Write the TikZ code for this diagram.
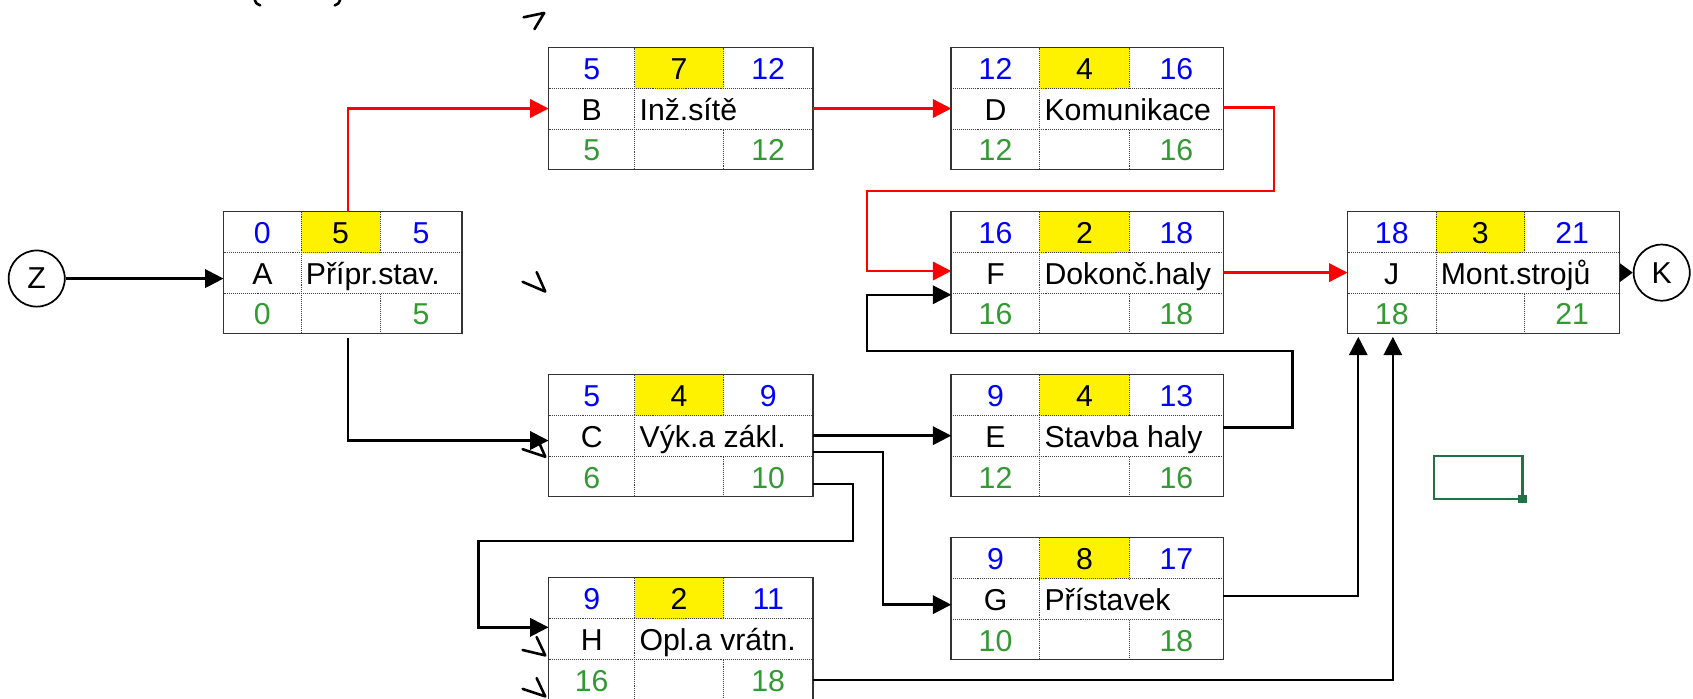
\documentclass[tikz,border=0pt]{standalone}
\usepackage{fontspec}
\setmainfont{Liberation Sans}
\usetikzlibrary{arrows.meta,calc}
\definecolor{numblue}{RGB}{0,0,255}
\definecolor{numgreen}{RGB}{51,153,51}
\definecolor{selgreen}{RGB}{33,115,70}
\tikzset{
  actnode/.style={draw=black!80, line width=0.7pt, inner sep=0pt, outer sep=0pt, rectangle},
  dotline/.style={draw=black!75, line width=0.45pt, dash pattern=on 0.45pt off 0.45pt},
  conn/.style={line width=1.1pt, -{Triangle[length=8.5pt,width=8.5pt]}},
  redconn/.style={conn, draw=red, color=red},
  blkconn/.style={conn, draw=black},
  txt/.style={font=\fontsize{14}{16}\selectfont, inner sep=0pt},
  numtxt/.style={txt, anchor=base},
  circ/.style={circle, draw=black, line width=0.8pt, minimum size=26pt, inner sep=0pt, font=\fontsize{14}{16}\selectfont},
  straymark/.style={line width=1.2pt, line cap=round, line join=round},
}
\newcommand\actbox[6]{%
  \def\bx{#2}\def\by{#3}\def\bw{#4}\def\ba{#5}\def\bb{#6}%
  \fill[yellow] (#2+#5,#3) rectangle (#2+#6,#3+38);
  \draw[dotline] (#2,#3+38) -- (#2+#4,#3+38) (#2,#3+76) -- (#2+#4,#3+76)
     (#2+#5,#3) -- (#2+#5,#3+113) (#2+#6,#3) -- (#2+#6,#3+38) (#2+#6,#3+76) -- (#2+#6,#3+113);
  \node[actnode, anchor=north west, minimum width={#4*0.5pt}, minimum height={56.5pt}] (#1) at (#2,#3) {};
}
\newcommand\acttext[8]{%
  \node[numtxt, text=numblue] (#1-es) at (\bx+\ba/2, \by+29.5) {#2};
  \node[numtxt, text=black] (#1-d) at (\bx+\ba/2+\bb/2, \by+29.5) {#3};
  \node[numtxt, text=numblue] (#1-ef) at (\bx+\bb/2+\bw/2, \by+29.5) {#4};
  \node[numtxt, text=black] (#1-let) at (\bx+\ba/2, \by+67.5) {#5};
  \node[txt, anchor=base west, text=black] (#1-lab) at (\bx+\ba+4, \by+67.5) {#6};
  \node[numtxt, text=numgreen] (#1-ls) at (\bx+\ba/2, \by+105) {#7};
  \node[numtxt, text=numgreen] (#1-lf) at (\bx+\bb/2+\bw/2, \by+105) {#8};
}
\begin{document}
\begin{tikzpicture}[x=0.5pt, y=-0.5pt]
\fill[white] (0,0) rectangle (1568,647);
\useasboundingbox (0,0) rectangle (1568,647);

\actbox{A}{207}{196}{221}{72}{145}
\acttext{A}{0}{5}{5}{A}{Přípr.stav.}{0}{5}
\actbox{B}{508}{44}{245}{80}{162}
\acttext{B}{5}{7}{12}{B}{Inž.sítě}{5}{12}
\actbox{C}{508}{347}{245}{80}{162}
\acttext{C}{5}{4}{9}{C}{Výk.a zákl.}{6}{10}
\actbox{D}{881}{44}{252}{82}{165}
\acttext{D}{12}{4}{16}{D}{Komunikace}{12}{16}
\actbox{E}{881}{347}{252}{82}{165}
\acttext{E}{9}{4}{13}{E}{Stavba haly}{12}{16}
\actbox{F}{881}{196}{252}{82}{165}
\acttext{F}{16}{2}{18}{F}{Dokonč.haly}{16}{18}
\actbox{G}{881}{498}{252}{82}{165}
\acttext{G}{9}{8}{17}{G}{Přístavek}{10}{18}
\actbox{H}{508}{535}{245}{80}{162}
\acttext{H}{9}{2}{11}{H}{Opl.a vrátn.}{16}{18}
\actbox{J}{1248}{196}{252}{82}{164}
\acttext{J}{18}{3}{21}{J}{Mont.strojů}{18}{21}

\node[circ] (Z) at (34,258) {Z};
\node[circ] (K) at (1539,252.5) {K};

% connectors
\draw[blkconn] (Z.east) -- (Z.east -| A.west);
\draw[redconn] ($(A.north)+(5,0)$) |- (B.west);
\draw[blkconn] ($(A.south)+(5,4)$) |- ($(C.west)+(0,4.5)$);
\draw[redconn] (B.east) -- (D.west);
\draw[redconn] ($(D.east)+(0,-1)$) -- (1180,99.5) -- (1180,177) -- (803,177) -- (803,251) -- ($(F.west)+(0,-1.5)$);
\draw[redconn] (F.east) -- (J.west);
\draw[line width=1.1pt, -{Triangle[length=6pt,width=8.5pt]}] (J.east) -- (K.west);
\draw[blkconn] (C.east) -- (E.west);
\draw[blkconn] ($(E.east)+(0,-7.5)$) -- (1197,396) -- (1197,325) -- (803,325) -- (803,273) -- ($(F.west)+(0,20.5)$);
\draw[blkconn] ($(C.east)+(0,15)$) -- (818,418.5) -- (818,560) -- ($(G.west)+(0,5.5)$);
\draw[blkconn] ($(C.east)+(0,44.5)$) -- (790,448) -- (790,501) -- (443,501) -- (443,581) -- ($(H.west)+(0,-10.5)$);
\draw[blkconn] ($(G.east)+(0,-2.5)$) -| ($(J.south west)+(10,3)$);
\draw[blkconn] ($(H.east)+(0,38.5)$) -| ($(J.south west)+(42,3)$);

% selection rectangle
\draw[selgreen, line width=1pt] (1328,422) rectangle (1410,462);
\fill[selgreen] (1406,458) rectangle (1414,466);

% stray marks
\draw[straymark] (236,0) .. controls (237,3) .. (241,5);
\draw[straymark] (315,0) .. controls (314,3) .. (310,5);
\draw[straymark] (485,16) -- (504,12) -- (495,27);
\draw[straymark] (484,261) -- (505,270) -- (497,252);
\draw[straymark] (484,416) -- (505,423) -- (498,407);
\draw[straymark] (484,602) -- (505,607) -- (497,590);
\draw[straymark] (484,638) -- (505,645) -- (497,628);
\end{tikzpicture}
\end{document}
